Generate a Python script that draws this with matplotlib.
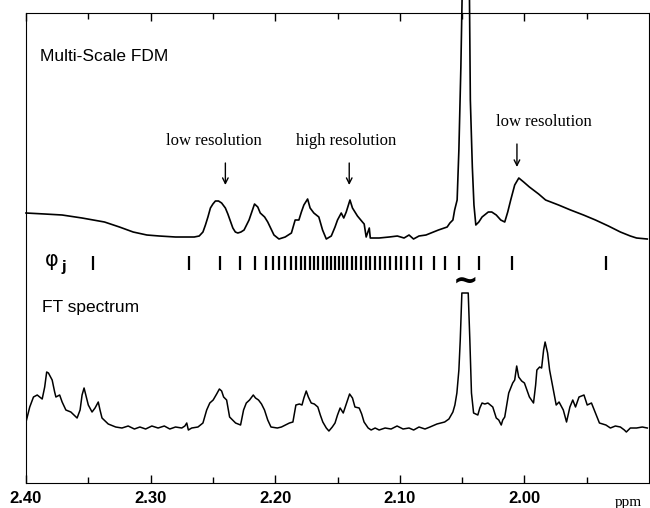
import matplotlib.pyplot as plt
import numpy as np

# FDM spectrum (ppm, intensity in arbitrary units)
fdm_ppm = [2.400, 2.385, 2.371, 2.355, 2.337, 2.325, 2.314, 2.303, 2.293, 2.280,
           2.265, 2.261, 2.258, 2.256, 2.254, 2.252, 2.250, 2.248, 2.2455, 2.243,
           2.240, 2.238, 2.236, 2.234, 2.232, 2.230, 2.2275, 2.225, 2.221, 2.2166,
           2.214, 2.212, 2.2085, 2.206, 2.201, 2.197, 2.192, 2.187, 2.184, 2.181,
           2.179, 2.177, 2.174, 2.172, 2.169, 2.165, 2.162, 2.159, 2.155, 2.152,
           2.150, 2.147, 2.145, 2.143, 2.140, 2.138, 2.136, 2.134, 2.130, 2.1286,
           2.127, 2.1245, 2.1237, 2.1166, 2.1085, 2.102, 2.0966, 2.0926, 2.089, 2.0846,
           2.079, 2.069, 2.062, 2.0598, 2.0574, 2.056, 2.054, 2.0526, 2.051, 2.0498,
           2.0442, 2.0434, 2.0418, 2.0405, 2.039, 2.0366, 2.034, 2.029, 2.0262, 2.0226,
           2.019, 2.0158, 2.0134, 2.011, 2.0078, 2.0045, 2.0006, 1.996, 1.9886, 1.983,
           1.9726, 1.963, 1.9526, 1.943, 1.9326, 1.923, 1.915, 1.910, 1.9014]
fdm_int = [270, 269, 268, 265, 261, 256, 251, 248, 247, 246,
           246, 247, 251, 258, 266, 275, 279, 282, 282, 280,
           275, 269, 262, 255, 251, 250, 251, 253, 263, 279,
           276, 270, 266, 261, 248, 244, 246, 250, 263, 263,
           271, 278, 284, 275, 270, 266, 253, 244, 247, 256,
           263, 270, 265, 271, 283, 275, 271, 267, 261, 259,
           246, 255, 245, 245, 246, 247, 245, 248, 244, 247,
           248, 253, 256, 260, 263, 273, 283, 333, 416, 500,
           500, 383, 316, 278, 258, 261, 266, 271, 271, 268,
           263, 261, 271, 283, 298, 305, 301, 296, 289, 283,
           278, 273, 268, 263, 257, 251, 247, 245, 244]

# FT spectrum
ft_ppm = [2.400, 2.397, 2.394, 2.391, 2.387, 2.385, 2.3834, 2.382, 2.379, 2.377,
          2.376, 2.373, 2.371, 2.368, 2.364, 2.359, 2.3566, 2.355, 2.3534, 2.352,
          2.350, 2.347, 2.3446, 2.342, 2.3406, 2.339, 2.334, 2.328, 2.323, 2.318,
          2.313, 2.3086, 2.304, 2.299, 2.294, 2.289, 2.2846, 2.280, 2.275, 2.2725,
          2.271, 2.2697, 2.267, 2.262, 2.258, 2.255, 2.2525, 2.2498, 2.247, 2.2448,
          2.243, 2.2414, 2.239, 2.2366, 2.2318, 2.2278, 2.2254, 2.2232, 2.2206, 2.2176,
          2.2158, 2.2134, 2.211, 2.2086, 2.206, 2.2034, 2.1983, 2.195, 2.1918, 2.1886,
          2.1858, 2.1834, 2.1806, 2.1785, 2.177, 2.1751, 2.1734, 2.1711, 2.1686, 2.1658,
          2.1638, 2.1618, 2.159, 2.1569, 2.1542, 2.152, 2.150, 2.1479, 2.1454, 2.143,
          2.1403, 2.138, 2.136, 2.1326, 2.1306, 2.1287, 2.1254, 2.123, 2.1198, 2.1166,
          2.1118, 2.107, 2.1022, 2.0974, 2.0926, 2.0889, 2.0846, 2.0798, 2.0758, 2.0702,
          2.064, 2.0606, 2.0574, 2.0558, 2.0542, 2.0526, 2.0515, 2.0502, 2.0451, 2.0438,
          2.0425, 2.0408, 2.0374, 2.0358, 2.034, 2.0318, 2.0293, 2.0254, 2.0226, 2.0206,
          2.0186, 2.0174, 2.0158, 2.0126, 2.0094, 2.0078, 2.0062, 2.0046, 2.0022, 2.000,
          1.996, 1.9927, 1.991, 1.990, 1.9878, 1.9862, 1.9846, 1.9834, 1.9814, 1.9798,
          1.9778, 1.9745, 1.9722, 1.9688, 1.9662, 1.9635, 1.9612, 1.959, 1.9562, 1.9522,
          1.9496, 1.9462, 1.943, 1.9398, 1.9346, 1.931, 1.927, 1.923, 1.9198, 1.9182,
          1.915, 1.910, 1.9054, 1.9014]
ft_int = [61, 76, 86, 88, 84, 96, 111, 110, 103, 91,
          86, 88, 81, 73, 71, 65, 73, 88, 95, 88,
          78, 71, 75, 81, 73, 65, 59, 56, 55, 57,
          54, 56, 54, 57, 55, 57, 54, 56, 55, 57,
          60, 53, 55, 56, 60, 73, 80, 83, 89, 94,
          92, 86, 83, 66, 60, 58, 73, 80, 83, 88,
          85, 83, 79, 73, 63, 56, 55, 56, 58, 60,
          61, 78, 79, 78, 85, 92, 86, 80, 79, 76,
          68, 61, 55, 52, 56, 60, 68, 75, 70, 79,
          89, 85, 76, 75, 69, 61, 55, 53, 55, 53,
          55, 54, 57, 54, 55, 53, 56, 54, 56, 59,
          61, 64, 71, 78, 90, 113, 143, 190, 190, 143,
          90, 70, 68, 75, 80, 79, 80, 76, 65, 63,
          58, 63, 66, 90, 100, 103, 117, 106, 102, 100,
          86, 80, 98, 113, 116, 115, 133, 141, 130, 113,
          100, 78, 81, 73, 61, 76, 83, 76, 86, 88,
          78, 80, 70, 60, 58, 55, 57, 56, 53, 51,
          55, 55, 56, 55]

# basis function positions (phi_j)
phi_ppm = [2.346, 2.269, 2.244, 2.228, 2.216, 2.2075, 2.2016, 2.1966, 2.192, 2.1875,
           2.1835, 2.1795, 2.1758, 2.1723, 2.1688, 2.1654, 2.1619, 2.1587, 2.1552, 2.1518,
           2.1486, 2.1454, 2.1424, 2.1387, 2.135, 2.1312, 2.1275, 2.1238, 2.1198, 2.1158,
           2.1118, 2.1075, 2.1032, 2.0987, 2.0939, 2.0886, 2.0827, 2.0726, 2.0638, 2.0526,
           2.0366, 2.0102, 1.9342]

xticks_major = [2.40, 2.30, 2.20, 2.10, 2.00]
xtick_labels = ["2.40", "2.30", "2.20", "2.10", "2.00"]
xticks_minor = [2.35, 2.25, 2.15, 2.05, 1.95]

fig = plt.figure(figsize=(6.5, 5.08), dpi=100)
ax = fig.add_axes([0.04, 0.0492, 0.9585, 0.9252])

ax.plot(fdm_ppm, fdm_int, "-k", lw=1.2, clip_on=False)
ax.plot(ft_ppm, ft_int, "-k", lw=1.1)
ax.vlines(phi_ppm, 213, 227, colors="k", lw=1.6)

ax.set_xlim(2.40, 1.90)
ax.set_ylim(0, 470)

ax.set_xticks(xticks_major)
ax.set_xticklabels(xtick_labels, fontfamily="Liberation Sans", fontweight="bold", fontsize=12)
ax.set_xticks(xticks_minor, minor=True)
ax.tick_params(axis="x", which="major", direction="in", length=6, width=1, top=True, pad=6)
ax.tick_params(axis="x", which="minor", direction="in", length=4, width=1, top=True)
ax.set_yticks([])

# Texts
ax.text(2.389, 427, "Multi-Scale FDM", fontfamily="Liberation Sans", fontsize=12.5,
        ha="left", va="center")
ax.text(2.387, 176, "FT spectrum", fontfamily="Liberation Sans", fontsize=12.5,
        ha="left", va="center")
ax.text(2.3852, 223, "φ", fontfamily="DejaVu Sans", fontsize=15,
        ha="left", va="center")
ax.text(2.3715, 216, "j", fontfamily="DejaVu Sans", fontweight="bold", fontsize=10,
        ha="left", va="center")
ax.text(2.0474, 202, "~", fontfamily="DejaVu Sans", fontsize=22, fontweight="bold",
        ha="center", va="center")

serif = "Liberation Serif"
ax.text(2.249, 342, "low resolution", fontfamily=serif, fontsize=12, ha="center", va="center")
ax.text(2.143, 342, "high resolution", fontfamily=serif, fontsize=12, ha="center", va="center")
ax.text(1.9846, 361, "low resolution", fontfamily=serif, fontsize=12, ha="center", va="center")

arrow = dict(arrowstyle="->", lw=1, color="k", shrinkA=0, shrinkB=0)
ax.annotate("", xy=(2.240, 298), xytext=(2.240, 320), arrowprops=arrow)
ax.annotate("", xy=(2.1406, 298), xytext=(2.1406, 320), arrowprops=arrow)
ax.annotate("", xy=(2.006, 316), xytext=(2.006, 339), arrowprops=arrow)

ax.text(1.9166, -19, "ppm", fontfamily=serif, fontsize=11, ha="center", va="center",
        clip_on=False)

plt.savefig("out.png", dpi=100)
